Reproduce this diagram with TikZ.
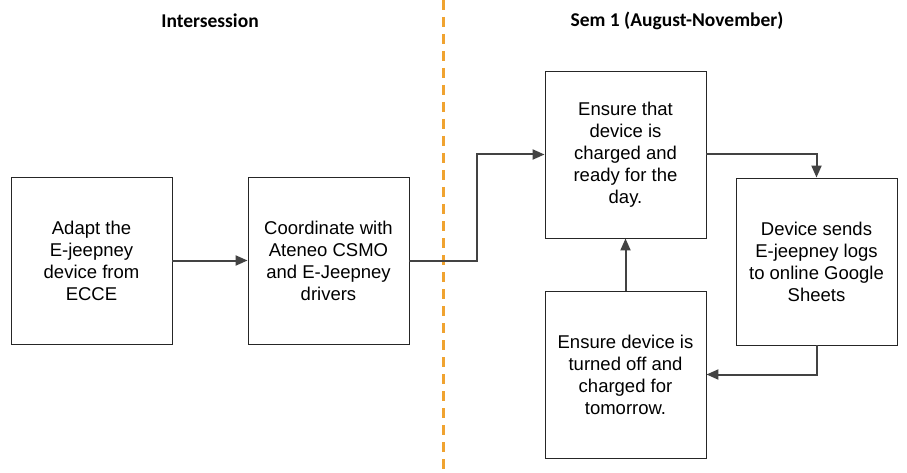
\documentclass[tikz,border=0pt]{standalone}
\usepackage{fontspec}
\setmainfont{Liberation Sans}
\newfontfamily\headfont{Carlito}
\usetikzlibrary{arrows.meta}
\definecolor{lineGray}{HTML}{434343}
\definecolor{dashOrange}{HTML}{F0A330}
\begin{document}
\begin{tikzpicture}[x=1pt,y=-1pt,
  box/.style={draw=black!85,line width=0.9pt,minimum width=161pt,minimum height=167pt,
    align=center,font=\fontsize{18.5}{22}\selectfont,inner sep=0pt},
  conn/.style={draw=lineGray,line width=2pt,-{Triangle[length=12pt,width=10pt]}},
  head/.style={font=\headfont\bfseries\fontsize{19.5}{22}\selectfont,inner sep=0pt},
  divider/.style={draw=dashOrange,line width=3pt,dash pattern=on 10pt off 7pt}]
\useasboundingbox (0,0) rectangle (907,473);
\fill[white] (0,0) rectangle (907,473);
\draw[divider] (443,0) -- (443,473);
\node[head] (h1) at (210,21) {Intersession};
\node[head] (h2) at (677,21) {Sem 1 (August-November)};
\node[box] (a) at (91.5,260.5) {Adapt the\\E-jeepney\\device from\\ECCE};
\node[box] (b) at (328.5,260.5) {Coordinate with\\Ateneo CSMO\\and E-Jeepney\\drivers};
\node[box] (c) at (625.5,154.5) {Ensure that\\device is\\charged and\\ready for the\\day.};
\node[box] (d) at (816.5,261.5) {Device sends\\E-jeepney logs\\to online Google\\Sheets};
\node[box] (e) at (625.5,374.5) {Ensure device is\\turned off and\\charged for\\tomorrow.};
\draw[conn] (a) -- (b);
\draw[conn] (b.east) -- ++(68,0) |- (c.west);
\draw[conn] (c.east) -| (d.north);
\draw[conn] (d.south) |- (e.east);
\draw[conn] (e) -- (c);
\end{tikzpicture}
\end{document}
